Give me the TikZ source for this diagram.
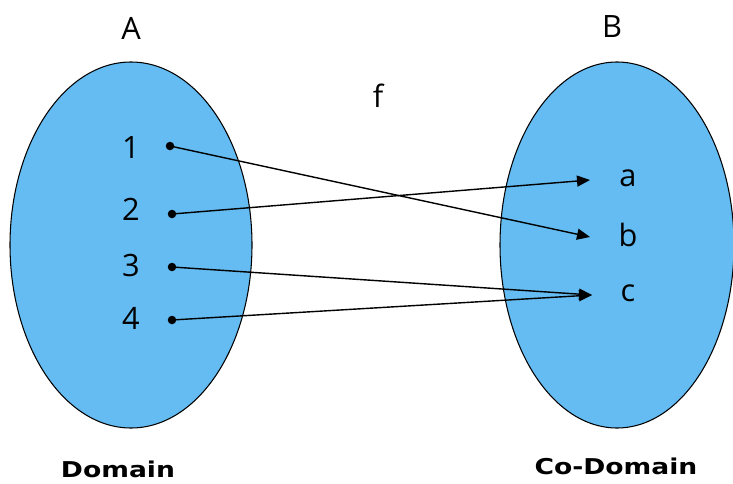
\documentclass[tikz,border=0pt]{standalone}
\usepackage{fontspec}
\setmainfont{Open Sans}
\newfontfamily\labelfont{DejaVu Sans}
\usepackage{graphicx}
\usepackage{tikz}
\usepackage{tkz-euclide}
\usetikzlibrary{arrows.meta}
\definecolor{setblue}{RGB}{100,188,242}
\newcommand{\setname}[1]{\scalebox{1.22}[1]{\labelfont\bfseries\fontsize{12.4}{14}\selectfont #1}}

\begin{document}
\begin{tikzpicture}[font=\fontsize{17.5}{20}\selectfont]
\useasboundingbox (0,0) rectangle (14.66,9.66);
\tkzDefPoint(2.62,4.76){SA}
\tkzDefPoint(12.34,4.76){SB}
\tkzDefPoint(3.40,6.74){P1}
\tkzDefPoint(3.44,5.38){P2}
\tkzDefPoint(3.44,4.32){P3}
\tkzDefPoint(3.44,3.26){P4}
\tkzDefPoint(11.80,6.06){Qa}
\tkzDefPoint(11.80,4.92){Qb}
\tkzDefPoint(11.84,3.76){Qc}
\draw[line width=0.6pt,fill=setblue] (SA) ellipse [x radius=2.42,y radius=3.66];
\draw[line width=0.6pt,fill=setblue] (SB) ellipse [x radius=2.34,y radius=3.66];
\tkzDrawSegment[-{Triangle[length=0.26cm,width=0.22cm]},line width=0.8pt](P1,Qb)
\tkzDrawSegment[-{Triangle[length=0.26cm,width=0.22cm]},line width=0.8pt](P2,Qa)
\tkzDrawSegment[-{Triangle[length=0.26cm,width=0.22cm]},line width=0.8pt](P3,Qc)
\tkzDrawSegment[-{Triangle[length=0.26cm,width=0.22cm]},line width=0.8pt](P4,Qc)
\foreach \p in {P1,P2,P3,P4}
  \fill (\p) circle (0.085);
\node (n1) at (2.62,6.70) {1};
\node (n2) at (2.62,5.48) {2};
\node (n3) at (2.62,4.34) {3};
\node (n4) at (2.62,3.30) {4};
\node (la) at (12.56,6.10) {a};
\node (lb) at (12.56,4.96) {b};
\node (lc) at (12.56,3.80) {c};
\node (setA) at (2.62,9.10) {A};
\node (setB) at (12.24,9.12) {B};
\node (fn) at (7.56,7.74) {f};
\node (dom) at (2.36,0.28) {\setname{Domain}};
\node (codom) at (12.32,0.34) {\setname{Co-Domain}};

\end{tikzpicture}
\end{document}
